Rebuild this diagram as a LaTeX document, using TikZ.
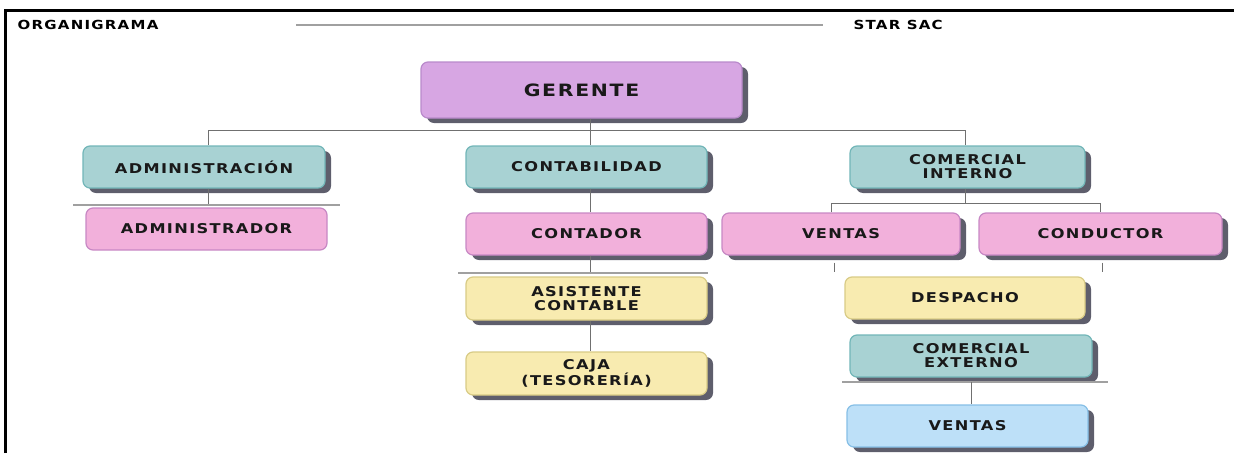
\documentclass[tikz,border=0pt]{standalone}
\usepackage{fontspec}
\setmainfont{DejaVu Sans}
\newfontfamily\heavyfont{DejaVu Sans}[LetterSpace=10,FakeStretch=1.2]
\usetikzlibrary{shadows}

\definecolor{shadowgray}{HTML}{5E5E6C}
\definecolor{linegray}{HTML}{707070}
\definecolor{bargray}{HTML}{A0A0A0}
\definecolor{purplefill}{HTML}{D7A6E3}
\definecolor{purpledraw}{HTML}{B98ACB}
\definecolor{tealfill}{HTML}{A8D2D3}
\definecolor{tealdraw}{HTML}{72B6B8}
\definecolor{pinkfill}{HTML}{F2B0DB}
\definecolor{pinkdraw}{HTML}{C788C4}
\definecolor{yellowfill}{HTML}{F8EBB0}
\definecolor{yellowdraw}{HTML}{D8CB86}
\definecolor{bluefill}{HTML}{BDE0F8}
\definecolor{bluedraw}{HTML}{86BFE6}

\tikzstyle{unit}=[rectangle,
                  rounded corners=7pt,
                  line width=1.2pt,
                  minimum height=42pt,
                  align=center,
                  text=black!90,
                  font=\heavyfont\bfseries\fontsize{13.5}{14}\selectfont]
\tikzstyle{shade}=[drop shadow={shadow xshift=6pt,shadow yshift=-5pt,
                  fill=shadowgray,opacity=1}]
\tikzstyle{boss}=[unit,shade,fill=purplefill,draw=purpledraw]
\tikzstyle{area}=[unit,shade,fill=tealfill,draw=tealdraw]
\tikzstyle{post}=[unit,shade,fill=pinkfill,draw=pinkdraw]
\tikzstyle{aide}=[unit,shade,fill=yellowfill,draw=yellowdraw]
\tikzstyle{field}=[unit,shade,fill=bluefill,draw=bluedraw]
\tikzstyle{link}=[draw=linegray,line width=1pt]
\tikzstyle{bar}=[draw=bargray,line width=1.4pt]

\begin{document}
\begin{tikzpicture}[x=1pt,y=-1pt]
  \useasboundingbox (0,0) rectangle (1234,453);

  % frame and heading
  \draw[line width=3pt] (5,453) -- (5,10) -- (1234,10);
  \node (title) [anchor=west,font=\heavyfont\bfseries\fontsize{12.5}{14}\selectfont]
        at (14,25) {ORGANIGRAMA};
  \node (firm) [anchor=west,font=\heavyfont\bfseries\fontsize{12.5}{14}\selectfont]
        at (850,25) {STAR SAC};
  \coordinate (rulea) at (296,25);
  \coordinate (ruleb) at (823,25);
  \draw[bar,line width=1.2pt] (rulea) -- (ruleb);

  % boxes
  \node (gerente) [boss,minimum width=321pt,minimum height=56pt,
        font=\heavyfont\bfseries\fontsize{17}{19}\selectfont] at (581.5,90) {GERENTE};

  \node (admin) [area,minimum width=242pt] at (204,167) {ADMINISTRACIÓN};
  \node (admor) [unit,fill=pinkfill,draw=pinkdraw,minimum width=241pt] at (206.5,229) {ADMINISTRADOR};

  \node (conta) [area,minimum width=241pt] at (586.5,167) {CONTABILIDAD};
  \node (contador) [post,minimum width=241pt] at (586.5,234) {CONTADOR};
  \node (asist) [aide,minimum width=241pt,minimum height=43pt] at (586.5,298.5) {ASISTENTE\\CONTABLE};
  \node (caja) [aide,minimum width=241pt,minimum height=43pt] at (586.5,373.5) {CAJA\\(TESORERÍA)};

  \node (cint) [area,minimum width=235pt] at (967.5,167) {COMERCIAL\\INTERNO};
  \node (ventas) [post,minimum width=238pt] at (841,234) {VENTAS};
  \node (conductor) [post,minimum width=243pt] at (1100.5,234) {CONDUCTOR};
  \node (despacho) [aide,minimum width=240pt] at (965,298) {DESPACHO};
  \node (cext) [area,minimum width=242pt] at (971,356) {COMERCIAL\\EXTERNO};
  \node (ventasext) [field,minimum width=241pt] at (967.5,426) {VENTAS};

  % The bus lines between the levels:
  \coordinate (hub) at (590,130);
  \coordinate (busl) at (208,130);
  \coordinate (busr) at (965,130);
  \draw[link] (gerente.south -| hub) -- (hub);
  \draw[link] (admin.north -| busl) -- (busl) -- (busr) -- (cint.north -| busr);
  \draw[link] (hub) -- (conta.north -| hub);

  \coordinate (adbar) at (208,205);
  \draw[link] (admin.south -| adbar) -- (adbar);
  \draw[bar] (73,205) -- (340,205);

  \draw[link] (conta.south -| hub) -- (contador.north -| hub);
  \coordinate (ctbar) at (590,273);
  \draw[link] (contador.south -| ctbar) -- (ctbar);
  \draw[bar] (458,273) -- (708,273);
  \draw[link] (asist.south -| hub) -- (caja.north -| hub);

  \coordinate (cibus) at (965,203);
  \coordinate (cibusl) at (831,203);
  \coordinate (cibusr) at (1100,203);
  \draw[link] (cint.south -| cibus) -- (cibus);
  \draw[link] (ventas.north -| cibusl) -- (cibusl) -- (cibusr) -- (conductor.north -| cibusr);

  \coordinate (ticka) at (834,272);
  \coordinate (tickb) at (1102,272);
  \draw[link] ([yshift=-7pt]ventas.south -| ticka) -- (ticka);
  \draw[link] ([yshift=-7pt]conductor.south -| tickb) -- (tickb);

  \coordinate (cebar) at (971,382);
  \draw[bar] (842,382) -- (1108,382);
  \draw[link] (cebar) -- (ventasext.north -| cebar);
\end{tikzpicture}
\end{document}
